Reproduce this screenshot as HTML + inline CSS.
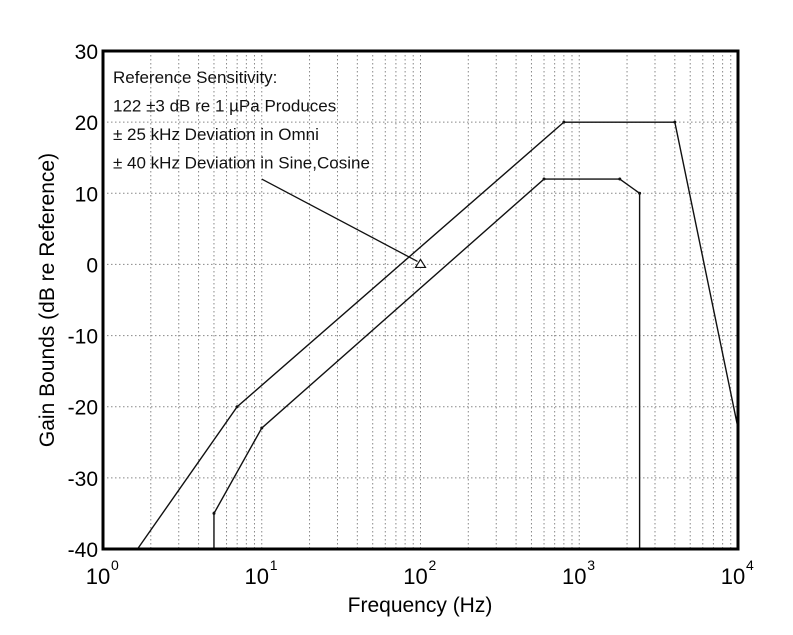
<!DOCTYPE html>
<html><head><meta charset="utf-8"><style>
body{margin:0;background:#fff;}
svg{display:block;font-family:"Liberation Sans",Arial,sans-serif;}
</style></head><body>
<svg id="chart" width="793" height="635">
<g id="grid"></g>
<g id="series"></g>
<g id="axes"></g>
</svg>
<script>
const upperFreq = [1.65, 7, 800, 4000, 10000];
const upperGain = [-40, -20, 20, 20, -23];
const lowerFreq = [5, 5, 10, 600, 1800, 2400, 2400];
const lowerGain = [-40, -35, -23, 12, 12, 10, -40];
const yTicks = [30, 20, 10, 0, -10, -20, -30, -40];
const xDecades = [0, 1, 2, 3, 4];
const annotationLines = ["Reference Sensitivity:", "122 \u00b13 dB re 1 \u00b5Pa Produces", "\u00b1 25 kHz Deviation in Omni", "\u00b1 40 kHz Deviation in Sine,Cosine"];
const arrowFrom = [10, 12];
const arrowTo = [100, 0];

const L=103, R=738, T=51, B=549;
const xs = f => L + (Math.log10(f) - 0) / 4 * (R - L);
const ys = v => T + (30 - v) / 70 * (B - T);
const NS="http://www.w3.org/2000/svg";
function mk(tag, attrs, parent){const e=document.createElementNS(NS,tag);for(const k in attrs)e.setAttribute(k,attrs[k]);parent.appendChild(e);return e;}
const grid=document.getElementById('grid'), series=document.getElementById('series'), axes=document.getElementById('axes');

for(let d=0; d<4; d++){
  for(let m=1; m<=9; m++){
    const f=m*Math.pow(10,d);
    if(d===0&&m===1) continue;
    const x=xs(f);
    const ln=mk('line',{x1:x,x2:x,y1:T,y2:B,stroke:'#888','stroke-width':1,'stroke-dasharray':'1.5,2.5'},grid);
    
    
  }
}
yTicks.forEach(v=>{
  const y=ys(v);
  const ln=mk('line',{x1:L,x2:R,y1:y,y2:y,stroke:'#888','stroke-width':1,'stroke-dasharray':'1.5,2.5'},grid);
  
  
  const t=mk('text',{x:L-5,y:y+8,'text-anchor':'end','font-size':21,fill:'#000'},axes);
  t.textContent=v;
  
  
});
xDecades.forEach(d=>{
  const x=xs(Math.pow(10,d));
  const t=mk('text',{x:x-5,y:584,'text-anchor':'middle','font-size':22,fill:'#000'},axes);
  t.textContent='10';
  
  
  const s=mk('text',{x:x+8,y:570,'font-size':14,fill:'#000'},axes);
  s.textContent=d;
  
  
});

function poly(fs, gs, name){
  const pts=fs.map((f,i)=>xs(f)+','+ys(gs[i])).join(' ');
  const p=mk('polyline',{points:pts,fill:'none',stroke:'#111','stroke-width':1.4},series);
  
  
  fs.forEach((f,i)=>{
    const c=mk('circle',{cx:xs(f),cy:ys(gs[i]),r:1.5,fill:'#111'},series);
    
    
  });
}
poly(upperFreq, upperGain, 'upper-bound-line');
poly(lowerFreq, lowerGain, 'lower-bound-line');

const ax1=xs(arrowFrom[0]), ay1=ys(arrowFrom[1]), ax2=xs(arrowTo[0]), ay2=ys(arrowTo[1]);
const ar=mk('line',{x1:ax1,y1:ay1,x2:ax2-3,y2:ay2-3,stroke:'#111','stroke-width':1.3},series);


const tri=mk('polygon',{points:`${ax2},${ay2-5} ${ax2+5},${ay2+3} ${ax2-5},${ay2+3}`,fill:'#fff',stroke:'#111','stroke-width':1.2},series);



annotationLines.forEach((s,i)=>{
  const t=mk('text',{x:113,y:83+i*28.5,'font-size':17,fill:'#111'},axes);
  t.textContent=s;
  
  
});

const fr=mk('rect',{x:L,y:T,width:R-L,height:B-T,fill:'none',stroke:'#000','stroke-width':3},axes);



const xt=mk('text',{x:420,y:612,'text-anchor':'middle','font-size':21,fill:'#000'},axes);
xt.textContent='Frequency (Hz)';


const yt=mk('text',{x:0,y:0,'text-anchor':'middle','font-size':21,fill:'#000',transform:'translate(54,300) rotate(-90)'},axes);
yt.textContent='Gain Bounds (dB re Reference)';


</script>
</body></html>
